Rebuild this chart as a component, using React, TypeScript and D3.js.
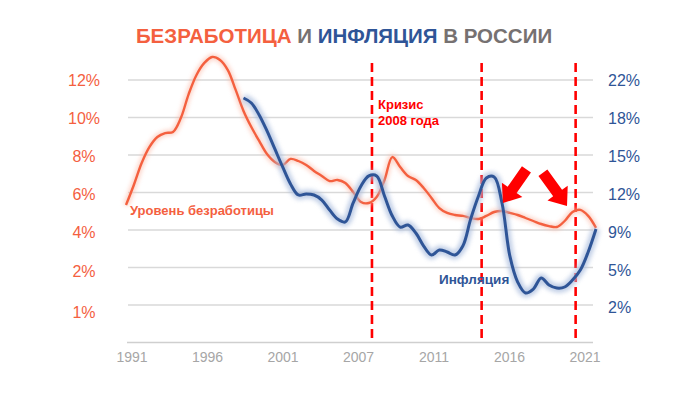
import React from "react";
import { scaleLinear, scalePoint, line, curveCatmullRom, range } from "d3";

// half-year samples
const years = [
  1992, 1992.5, 1993, 1993.5, 1994, 1994.5, 1995, 1995.5, 1996, 1996.5,
  1997, 1997.5, 1998, 1998.5, 1999, 1999.5, 2000, 2000.5, 2001, 2001.5,
  2002, 2002.5, 2003, 2003.5, 2004, 2004.5, 2005, 2005.5, 2006, 2006.5,
  2007, 2007.5, 2008, 2008.5, 2009, 2009.5, 2010, 2010.5, 2011, 2011.5,
  2012, 2012.5, 2013, 2013.5, 2014, 2014.5, 2015, 2015.5, 2016, 2016.5,
  2017, 2017.5, 2018, 2018.5, 2019, 2019.5, 2020, 2020.5, 2021, 2021.5, 2022,
];

const unemployment = [
  5.33, 6.4, 7.57, 8.43, 8.96, 9.17, 9.23, 9.97, 11.25, 12.27,
  12.91, 13.23, 13.07, 12.53, 11.47, 10.35, 9.49, 8.75, 8.05, 7.63,
  7.47, 7.79, 7.68, 7.47, 7.15, 6.88, 6.61, 6.67, 6.51, 6.03,
  5.49, 5.44, 5.76, 6.67, 7.89, 7.36, 6.88, 6.67, 6.24, 5.71,
  5.17, 4.91, 4.8, 4.75, 4.64, 4.59, 4.75, 4.96, 5.01, 4.91,
  4.8, 4.64, 4.48, 4.32, 4.21, 4.16, 4.48, 4.96, 5.07, 4.75, 4.11,
];

// inflation starts at 1999.5
const inflationYears = years.slice(15);
const inflation = [
  20.4, 19.96, 18.89, 17.47, 15.87, 14.27, 12.76, 11.78, 11.87, 11.78,
  11.33, 10.44, 9.64, 9.38, 11.07, 12.58, 13.47, 13.47, 11.69, 9.91,
  8.93, 9.11, 8.4, 7.24, 6.44, 6.89, 6.71, 6.44, 7.24, 9.64,
  11.69, 13.29, 13.38, 11.07, 6.36, 4.04, 3.07, 3.42, 4.4, 3.78,
  3.51, 3.6, 4.22, 5.11, 6.71, 8.76,
];

const xLabels = ["1991", "1996", "2001", "2007", "2011", "2016", "2021"];
const leftTickLabels = ["12%", "10%", "8%", "6%", "4%", "2%", "1%"];
const rightTickLabels = ["22%", "18%", "15%", "12%", "9%", "5%", "2%"];
const crisisYears = [2007.7, 2014.7, 2020.7];

const RED = "#F4603F";
const BLUE = "#2F5597";
const GRAY = "#767171";
const FONT = "'Liberation Sans', Arial, sans-serif";

export default function App() {
  const width = 700;
  const height = 394;
  const top = 80;
  const bottom = 342.5;
  const gridLeft = 128;
  const gridRight = 593;

  const x = scaleLinear().domain([1992, 2022]).range([126, 596]);
  const yLeft = scaleLinear().domain([-2, 12]).range([bottom, top]);
  const yRight = scaleLinear().domain([22 - (7 * 10) / 3, 22]).range([bottom, top]);
  const xLab = scalePoint<string>().domain(xLabels).range([132, 585]);

  const leftTicks = range(12, -1, -2);
  const rightTicks = range(7).map((i) => 22 - (i * 10) / 3);

  const redLine = line<number>()
    .x((_, i) => x(years[i]))
    .y((d) => yLeft(d))
    .curve(curveCatmullRom.alpha(0.5));
  const blueLine = line<number>()
    .x((_, i) => x(inflationYears[i]))
    .y((d) => yRight(d))
    .curve(curveCatmullRom.alpha(0.5));

  // arrows: tip in data coords + direction
  const arrows = [
    { year: 2016.06, value: 5.44, angle: 125 },
    { year: 2020.15, value: 5.28, angle: 54 },
  ];

  return (
    <div style={{ position: "absolute", left: 0, top: 0 }}>
      <svg width={width} height={height} style={{ display: "block", background: "#fff" }}>
        <defs>
          <filter id="blur" x="-10%" y="-10%" width="120%" height="120%">
            <feGaussianBlur stdDeviation={2} />
          </filter>
        </defs>

        {/* title */}
        <text x={344} y={43} textAnchor="middle" fontFamily={FONT} fontWeight="bold" fontSize={20.5}>
          <tspan fill={RED}>БЕЗРАБОТИЦА</tspan>
          <tspan fill={GRAY}> И </tspan>
          <tspan fill={BLUE}>ИНФЛЯЦИЯ</tspan>
          <tspan fill={GRAY}> В РОССИИ</tspan>
        </text>

        {/* gridlines */}
        {leftTicks.map((t) => (
          <line key={t} x1={gridLeft} x2={gridRight} y1={yLeft(t)} y2={yLeft(t)} stroke="#D9D9D9" strokeWidth={1.3} />
        ))}
        <line x1={gridLeft - 1} x2={gridRight} y1={bottom} y2={bottom} stroke="#CFCFCF" strokeWidth={1.3} />

        {/* left axis (labels drift a little below their gridlines) */}
        {leftTicks.map((t, i) => (
          <text key={t} x={84} y={yLeft(t) + 6 + (i === 6 ? 7 : i * 0.6)} textAnchor="middle" fontFamily={FONT} fontSize={16} fill={RED}>
            {leftTickLabels[i]}
          </text>
        ))}
        {/* right axis */}
        {rightTicks.map((t, i) => (
          <text key={i} x={608} y={yRight(t) + 6 + i * 0.4} textAnchor="start" fontFamily={FONT} fontSize={16} fill={BLUE}>
            {rightTickLabels[i]}
          </text>
        ))}
        {/* x labels */}
        {xLabels.map((l) => (
          <text key={l} x={xLab(l)} y={362} textAnchor="middle" fontFamily={FONT} fontSize={14} fill="#A6A6A6">
            {l}
          </text>
        ))}

        {/* crisis markers */}
        {crisisYears.map((yr) => (
          <line key={yr} x1={x(yr)} x2={x(yr)} y1={63} y2={bottom} stroke="#FF0000" strokeWidth={2.6} strokeDasharray="9 5" />
        ))}

        {/* unemployment */}
        <path d={redLine(unemployment) ?? ""} fill="none" stroke="#FBB8A5" strokeWidth={6} opacity={0.6} filter="url(#blur)" />
        <path d={redLine(unemployment) ?? ""} fill="none" stroke={RED} strokeWidth={2.4} />

        {/* inflation */}
        <path d={blueLine(inflation) ?? ""} fill="none" stroke="#A9BCDD" strokeWidth={9} opacity={0.7} filter="url(#blur)" />
        <path d={blueLine(inflation) ?? ""} fill="none" stroke={BLUE} strokeWidth={3} />

        {/* arrows */}
        {arrows.map((a, i) => (
          <g key={i} transform={`translate(${x(a.year)},${yLeft(a.value)}) rotate(${a.angle})`}>
            <polygon points="0,0 -16,-12.5 -16,-5.5 -41,-5.5 -41,5.5 -16,5.5 -16,12.5" fill="#FF0000" />
          </g>
        ))}

        {/* annotations */}
        <text fontFamily={FONT} fontWeight="bold" fontSize={13} fill="#FF0000">
          <tspan x={378} y={109}>Кризис</tspan>
          <tspan x={378} y={125}>2008 года</tspan>
        </text>
        <text x={130} y={215} fontFamily={FONT} fontWeight="bold" fontSize={13} fill={RED}>
          Уровень безработицы
        </text>
        <text x={439} y={284} fontFamily={FONT} fontWeight="bold" fontSize={13.5} fill={BLUE}>
          Инфляция
        </text>
      </svg>
    </div>
  );
}
